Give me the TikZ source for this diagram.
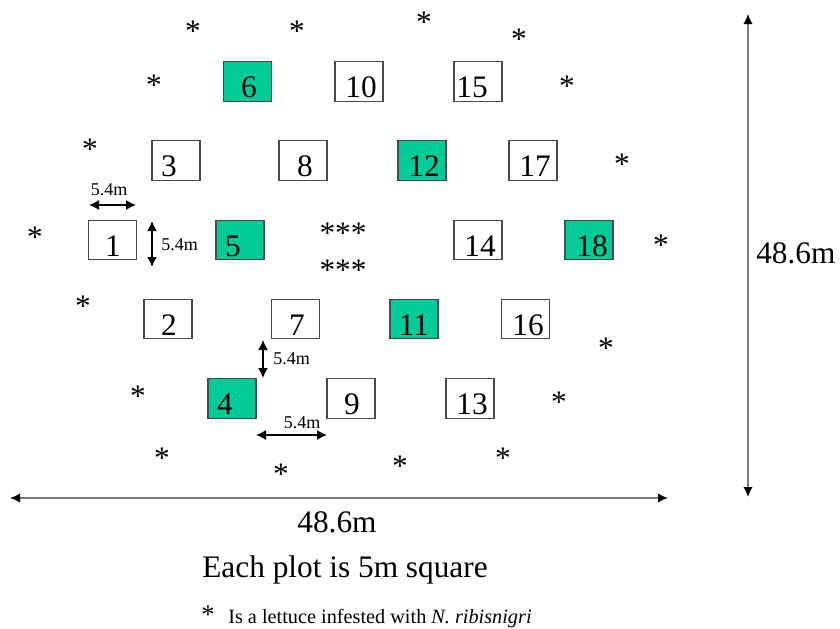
\documentclass[tikz,border=0pt]{standalone}
\usepackage{fontspec}
\setmainfont{Liberation Serif}
\usetikzlibrary{arrows.meta}
\definecolor{plotgreen}{HTML}{00CC99}
\definecolor{boxline}{HTML}{4A4A4A}
\definecolor{axisline}{HTML}{7A7A7A}
\tikzset{
  plotbox/.style={draw=boxline, line width=0.8pt, minimum width=36pt, minimum height=29.5pt, inner sep=0pt},
  infected/.style={plotbox, fill=plotgreen},
  num/.style={anchor=base, inner sep=0pt, font=\fontsize{23.5}{27}\selectfont},
  star/.style={anchor=base, inner sep=0pt, font=\fontsize{23.5}{27}\selectfont},
  small/.style={anchor=base, inner sep=0pt, font=\fontsize{13.5}{16}\selectfont},
  big/.style={anchor=base, inner sep=0pt, font=\fontsize{23.5}{27}\selectfont},
  dimarrow/.style={{Latex[length=7.5pt,width=7.5pt]}-{Latex[length=7.5pt,width=7.5pt]}, line width=1.1pt, black},
  axisarrow/.style={{Latex[length=7.5pt,width=7pt,color=black]}-{Latex[length=7.5pt,width=7pt,color=black]}, line width=1.2pt, axisline}
}
\begin{document}
\begin{tikzpicture}[x=0.75pt,y=-0.75pt]
\useasboundingbox (0,0) rectangle (840,629);
% plots
\node[infected] (b6)  at (247.5,81.5) {};
\node[plotbox]  (b10) at (359,81.5) {};
\node[plotbox]  (b15) at (478,81.5) {};
\node[plotbox]  (b3)  at (176,160.5) {};
\node[plotbox]  (b8)  at (303,160.5) {};
\node[infected] (b12) at (422,160.5) {};
\node[plotbox]  (b17) at (533,160.5) {};
\node[plotbox]  (b1)  at (112.5,240) {};
\node[infected] (b5)  at (240,240) {};
\node[plotbox]  (b14) at (478,240) {};
\node[infected] (b18) at (589,240) {};
\node[plotbox]  (b2)  at (168,319) {};
\node[plotbox]  (b7)  at (295.5,319) {};
\node[infected] (b11) at (414,319) {};
\node[plotbox]  (b16) at (525.5,319) {};
\node[infected] (b4)  at (232,398.5) {};
\node[plotbox]  (b9)  at (351,398.5) {};
\node[plotbox]  (b13) at (470,398.5) {};
% numbers
\node[num] (n6)  at (249,97) {6};
\node[num] (n10) at (361,97) {10};
\node[num] (n15) at (472,97) {15};
\node[num] (n3)  at (169,176) {3};
\node[num] (n8)  at (305,176) {8};
\node[num] (n12) at (424,176) {12};
\node[num] (n17) at (535,176) {17};
\node[num] (n1)  at (113,256) {1};
\node[num] (n5)  at (233,256) {5};
\node[num] (n14) at (480,256) {14};
\node[num] (n18) at (592,256) {18};
\node[num] (n2)  at (169,335) {2};
\node[num] (n7)  at (297,335) {7};
\node[num] (n11) at (414,335) {11};
\node[num] (n16) at (528,335) {16};
\node[num] (n4)  at (225,414) {4};
\node[num] (n9)  at (352,414) {9};
\node[num] (n13) at (472,414) {13};
% infested lettuces (base = centre + 14)
\node[star] (s1)  at (193,41) {*};
\node[star] (s2)  at (297,41) {*};
\node[star] (s3)  at (424,32) {*};
\node[star] (s4)  at (519,49) {*};
\node[star] (s5)  at (154,95) {*};
\node[star] (s6)  at (567,96) {*};
\node[star] (s7)  at (90,159) {*};
\node[star] (s8)  at (622,174) {*};
\node[star] (s9)  at (35,247) {*};
\node[star] (s10) at (661,255) {*};
\node[star] (s11) at (83,316) {*};
\node[star] (s12) at (606,358) {*};
\node[star] (s13) at (138,406) {*};
\node[star] (s14) at (559,412) {*};
\node[star] (s15) at (162,468) {*};
\node[star] (s16) at (281,484) {*};
\node[star] (s17) at (400,476) {*};
\node[star] (s18) at (503,468) {*};
\node[star] (s19) at (343,243) {***};
\node[star] (s20) at (343,280) {***};
% small dimension arrows
\coordinate (d1a) at (89,205);
\coordinate (d1b) at (136,205);
\draw[dimarrow] (d1a) -- (d1b);
\node[small] (l1) at (109,195) {5.4m};
\coordinate (d2a) at (152,221);
\coordinate (d2b) at (152,267);
\draw[dimarrow] (d2a) -- (d2b);
\node[small,anchor=base west] (l2) at (161,250) {5.4m};
\coordinate (d3a) at (263,340);
\coordinate (d3b) at (263,378);
\draw[dimarrow] (d3a) -- (d3b);
\node[small,anchor=base west] (l3) at (273,364) {5.4m};
\coordinate (d4a) at (256,435);
\coordinate (d4b) at (327,435);
\draw[dimarrow] (d4a) -- (d4b);
\node[small] (l4) at (302,428) {5.4m};
% overall dimensions
\coordinate (ha) at (10,498);
\coordinate (hb) at (668,498);
\draw[axisarrow] (ha) -- (hb);
\coordinate (va) at (748,14);
\coordinate (vb) at (748,497);
\draw[axisarrow] (va) -- (vb);
\node[big] (hl) at (337,532) {48.6m};
\node[big,anchor=base west] (vl) at (756,263) {48.6m};
\node[big] (cap) at (345,577) {Each plot is 5m square};
% legend
\node[star, font=\fontsize{20}{24}\selectfont] (ls) at (208,623) {*};
\node[anchor=base west, inner sep=0pt, font=\fontsize{15.2}{18}\selectfont] (lt) at (228,623) {Is a lettuce infested with \textit{N. ribisnigri}};
\end{tikzpicture}
\end{document}
